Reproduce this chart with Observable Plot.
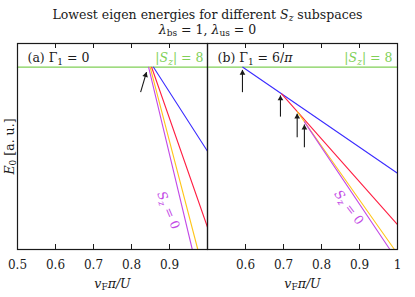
<!DOCTYPE html>
<html><head><meta charset="utf-8">
<script src="https://cdn.jsdelivr.net/npm/d3@7"></script>
<script src="https://cdn.jsdelivr.net/npm/@observablehq/plot@0.6"></script>
<style>
body{margin:0;background:#fff;}
#wrap{position:relative;width:415px;height:297px;font-family:"DejaVu Serif",serif;overflow:hidden;background:#fff;color:#1a1a1a}
.tl{position:absolute;left:0;width:415px;text-align:center;font-size:12.5px;line-height:13px;height:13px;white-space:nowrap}
.tl sub{font-size:9px;line-height:0;vertical-align:-2px}
#wrap svg{position:absolute;top:0}
</style></head>
<body>
<div id="wrap">
  <div class="tl" style="top:8px">Lowest eigen energies for different <i>S</i><sub><i>z</i></sub> subspaces</div>
  <div class="tl" style="top:22.5px"><i>λ</i><sub>bs</sub> = 1, <i>λ</i><sub>us</sub> = 0</div>
</div>
<script>
// ---- data (x: v_F·π/U, y: E0 in arbitrary units) ----
const xTicksA = [0.5, 0.6, 0.7, 0.8, 0.9];
const xTicksB = [0.6, 0.7, 0.8, 0.9, 1];
const innerTicks = [0.6, 0.7, 0.8, 0.9];

// |Sz| = 8 level (flat)
const flatV = [0.5, 1.0];
const flatE = [0, 0];

// panel (a) Γ1 = 0
const aBlueV = [0.858, 1.0],    aBlueE = [0, -0.461];
const aRedV = [0.853, 1.0],     aRedE = [0, -0.878];
const aOrangeV = [0.849, 0.9745], aOrangeE = [0, -1.0];
const aPurpleV = [0.845, 0.960],  aPurpleE = [0, -1.0];
const aArrowV1 = [0.824], aArrowE1 = [-0.137];
const aArrowV2 = [0.8395], aArrowE2 = [-0.027];

// panel (b) Γ1 = 6/π
const bBlueV = [0.593, 1.0],    bBlueE = [0, -0.582];
const bRedV = [0.695, 1.0],     bRedE = [-0.146, -0.863];
const bOrangeV = [0.736, 0.992], bOrangeE = [-0.243, -1.0];
const bPurpleV = [0.755, 0.980], bPurpleE = [-0.300, -1.0];
const bArrowV = [0.592, 0.692, 0.736, 0.755];
const bArrowE1 = [-0.137, -0.271, -0.384, -0.439];
const bArrowE2 = [-0.015, -0.155, -0.255, -0.315];

// label positions
const aLabelV = [0.897], aLabelE = [-0.785];
const bLabelV = [0.872], bLabelE = [-0.769];

const GREEN = "#80d057", BLUE = "#3b2cff", RED = "#ff1f43", ORANGE = "#ffc61a", PURPLE = "#c34ae6", INK = "#1a1a1a";
const FONT = "'DejaVu Serif', serif";

const rows = (v, e) => v.map((x, i) => ({v: x, e: e[i]}));
const arrowRows = (v1, e1, v2, e2) => v1.map((x, i) => ({x1: x, y1: e1[i], x2: v2[i], y2: e2[i]}));

const SUB = (t, it) => `<tspan font-size="9" dy="2.5"${it ? ' font-style="italic"' : ""}>${t}</tspan>`;
const RICH = {
  "Sz = 0": `<tspan font-style="italic">S</tspan>${SUB("z", true)}<tspan dy="-2.5"> = 0</tspan>`,
  "|Sz| = 8": `|<tspan font-style="italic">S</tspan>${SUB("z", true)}<tspan dy="-2.5">| = 8</tspan>`,
  "(a) Γ1 = 0": `(a) Γ${SUB("1")}<tspan dy="-2.5"> = 0</tspan>`,
  "(b) Γ1 = 6/π": `(b) Γ${SUB("1")}<tspan dy="-2.5"> = 6/</tspan><tspan font-style="italic">π</tspan>`,
  "vFπ/U": `<tspan font-style="italic">v</tspan>${SUB("F")}<tspan dy="-2.5" font-style="italic">π/U</tspan>`,
  "E0 [a. u.]": `<tspan font-style="italic">E</tspan>${SUB("0")}<tspan dy="-2.5"> [a. u.]</tspan>`
};

function panel({width, marginLeft, marginRight, ticks, series, arrows, arrowRotate, sLabel, sRotate, label, greenDx, yLabel}) {
  const fh = 297 - 43 - 48;
  const fs = 12.5;
  const marks = [
    Plot.line(rows(flatV, flatE), {x: "v", y: "e", stroke: GREEN, strokeWidth: 1.3}),
    ...series.map(([v, e, c]) => Plot.line(rows(v, e), {x: "v", y: "e", stroke: c, strokeWidth: 1.1})),
    Plot.link(arrows, {x1: "x1", y1: "y1", x2: "x2", y2: "y2", stroke: INK, strokeWidth: 1.1}),
    Plot.dot(arrows, {x: "x2", y: "y2", symbol: "triangle", r: 2.1, fill: INK, stroke: null, rotate: arrowRotate,
      dx: 3.2 * Math.sin(-arrowRotate * Math.PI / 180), dy: 3.2 * Math.cos(arrowRotate * Math.PI / 180)}),
    Plot.ruleX(innerTicks, {x: d => d, insetTop: fh - 5, stroke: INK}),
    Plot.ruleX(innerTicks, {x: d => d, insetBottom: fh - 5, stroke: INK}),
    Plot.axisX(ticks, {anchor: "bottom", tickSize: 0, tickPadding: 10.5, tickFormat: d3.format("~g"), label: null, fontSize: 12, fontFamily: FONT, fill: INK}),
    Plot.frame({stroke: INK, strokeWidth: 1.2}),
    Plot.text([label], {frameAnchor: "top-left", dx: 10, dy: 14.5, textAnchor: "start", lineAnchor: "middle", fontSize: fs, fontFamily: FONT, fill: INK}),
    Plot.text(["|Sz| = 8"], {frameAnchor: "top-right", dx: greenDx, dy: 14.5, textAnchor: "end", lineAnchor: "middle", fontSize: fs, fontFamily: FONT, fill: GREEN}),
    Plot.text(rows(sLabel[0], sLabel[1]), {x: "v", y: "e", text: () => "Sz = 0", rotate: sRotate, textAnchor: "middle", fontSize: fs, fontFamily: FONT, fill: PURPLE}),
    Plot.text(["vFπ/U"], {frameAnchor: "bottom", dy: 34, textAnchor: "middle", lineAnchor: "middle", fontSize: fs, fontFamily: FONT, fill: INK})
  ];
  if (yLabel) marks.push(Plot.text(["E0 [a. u.]"], {frameAnchor: "left", dx: -8, rotate: -90, textAnchor: "middle", lineAnchor: "middle", fontSize: fs, fontFamily: FONT, fill: INK}));
  const svg = Plot.plot({
    width, height: 297, marginLeft, marginRight, marginTop: 43, marginBottom: 48,
    x: {domain: [0.5, 1], axis: null},
    y: {domain: [-1, 0.13], axis: null},
    style: {fontFamily: FONT, fontSize: fs + "px", background: "transparent", overflow: "visible"},
    marks
  });
  d3.select(svg).selectAll("text").each(function () {
    const h = RICH[this.textContent];
    if (h) this.innerHTML = h;
  });
  return svg;
}

const left = panel({
  width: 208, marginLeft: 17, marginRight: 1, ticks: xTicksA,
  series: [[aBlueV, aBlueE, BLUE], [aRedV, aRedE, RED], [aOrangeV, aOrangeE, ORANGE], [aPurpleV, aPurpleE, PURPLE]],
  arrows: arrowRows(aArrowV1, aArrowE1, aArrowV2, aArrowE2), arrowRotate: 17,
  sLabel: [aLabelV, aLabelE], sRotate: 67, label: "(a) Γ1 = 0", greenDx: -4, yLabel: true
});
left.style.left = "0px";
const right = panel({
  width: 209, marginLeft: 1, marginRight: 18, ticks: xTicksB,
  series: [[bBlueV, bBlueE, BLUE], [bRedV, bRedE, RED], [bOrangeV, bOrangeE, ORANGE], [bPurpleV, bPurpleE, PURPLE]],
  arrows: arrowRows(bArrowV, bArrowE1, bArrowV, bArrowE2), arrowRotate: 0,
  sLabel: [bLabelV, bLabelE], sRotate: 53, label: "(b) Γ1 = 6/π", greenDx: -5, yLabel: false
});
right.style.left = "206px";
document.getElementById("wrap").append(left, right);
</script>
</body></html>
